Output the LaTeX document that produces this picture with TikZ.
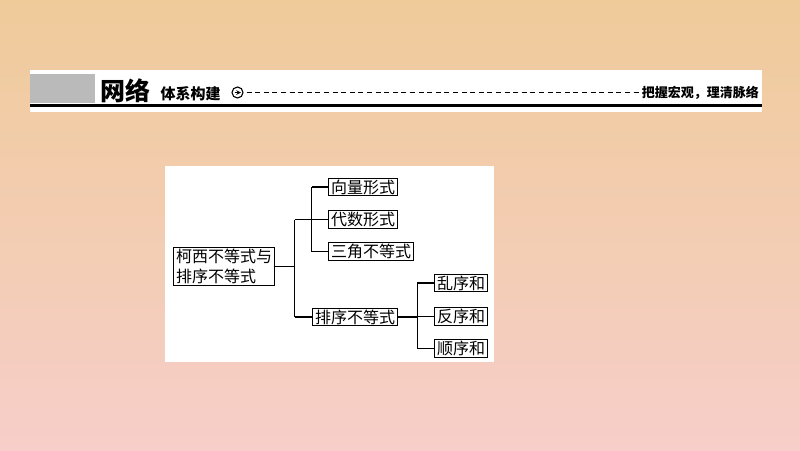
\documentclass[tikz,border=0pt]{standalone}
\usepackage{fontspec}
\newfontfamily\cjk{Noto Sans CJK SC}
\usepackage{xcolor}

\begin{document}
\begin{tikzpicture}[x=1pt, y=-1pt,
    box/.style={draw=black, line width=1.1pt, fill=white, inner xsep=2.5pt, inner ysep=1.5pt,
      font=\cjk\fontsize{16}{20}\selectfont},
    link/.style={line width=1.1pt}]
  \definecolor{bgtop}{RGB}{239,203,154}
  \definecolor{bgmid}{RGB}{243,204,175}
  \definecolor{bgbot}{RGB}{247,206,201}
  \definecolor{bargray}{RGB}{186,186,186}
  \useasboundingbox (0,0) rectangle (800,450);
  \shade [top color=bgtop, middle color=bgmid, bottom color=bgbot] (0,0) rectangle (800,450);
  % title bar
  \fill [white] (30,70) rectangle (762,112);
  \fill [bargray] (30,74) rectangle (95,103);
  \fill [black] (30,104) rectangle (762,107);
  \node (big) at (125,91) {\cjk\bfseries\fontsize{25}{25}\selectfont 网络};
  \node [anchor=west] (sub) at (157,93.5) {\cjk\bfseries\fontsize{15}{15}\selectfont 体系构建};
  \node [draw, circle, line width=1.1pt, minimum size=11pt, inner sep=0pt] (go) at (237.5,92.5) {};
  \draw [line width=1.1pt, -stealth] ([xshift=-3pt]go.center) -- ([xshift=3.5pt]go.center);
  \node [anchor=east, inner sep=0pt] (motto) at (759,92.5) {\cjk\bfseries\fontsize{13}{13}\selectfont 把握宏观，理清脉络};
  \draw [line width=1pt, dash pattern=on 5pt off 3.6pt] (go.east) ++(3,0) -- (motto.west);
  % diagram panel
  \fill [white] (165,166) rectangle (494,362);
  \node [box, align=left] (root) at (224,266.5) {柯西不等式与\\排序不等式};
  \node [box, anchor=west] (vec) at (328,187) {向量形式};
  \node [box, anchor=west] (alg) at (328,219.5) {代数形式};
  \node [box, anchor=west] (tri) at (328,251.5) {三角不等式};
  \node [box, anchor=west] (sort) at (312,317) {排序不等式};
  \node [box, anchor=west] (rand) at (434,283) {乱序和};
  \node [box, anchor=west] (rev) at (434,316.5) {反序和};
  \node [box, anchor=west] (ord) at (434,348.5) {顺序和};
  \draw [link] (root.east) -- ++(19.5,0) coordinate (b1);
  \draw [link] (b1 |- alg.west) -- (b1 |- sort.west);
  \draw [link] (b1 |- alg.west) -- (alg.west);
  \draw [link] (b1 |- sort.west) -- (sort.west);
  \coordinate (b2) at ([xshift=-16.5pt]vec.west);
  \draw [link] (b2) -- (b2 |- tri.west);
  \draw [link] (b2) -- (vec.west);
  \draw [link] (b2 |- tri.west) -- (tri.west);
  \draw [link] (sort.east) -- ++(19,0) coordinate (b3);
  \draw [link] (b3 |- rand.west) -- (b3 |- ord.west);
  \draw [link] (b3 |- rand.west) -- (rand.west);
  \draw [link] (b3 |- rev.west) -- (rev.west);
  \draw [link] (b3 |- ord.west) -- (ord.west);
\end{tikzpicture}
\end{document}
